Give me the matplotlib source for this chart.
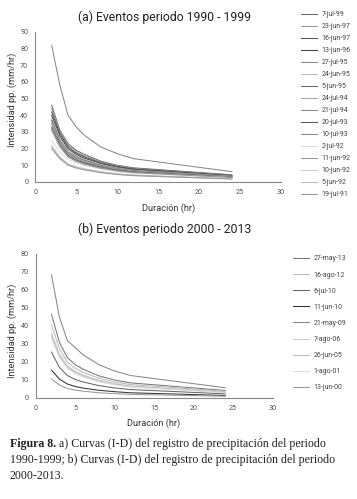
import matplotlib
matplotlib.use("Agg")
import matplotlib.pyplot as plt

durations = [2, 3, 4, 5, 6, 8, 10, 12, 24]

# (a) 1990 - 1999
labels_a = ["7-jul-99", "23-jun-97", "16-jun-97", "13-jun-96", "27-jul-95",
            "24-jun-95", "5-jun-95", "24-jul-94", "21-jul-94", "20-jul-93",
            "10-jul-93", "2-jul-92", "11-jun-92", "10-jun-92", "5-jun-92",
            "19-jul-91"]
values_a = [
    [46, 31, 23, 19, 16.5, 12.5, 10, 8.5, 4.3],
    [44, 30, 22, 18, 15.5, 12, 9.7, 8.1, 4.0],
    [42, 29, 21, 17.3, 15, 11.5, 9.3, 7.8, 3.9],
    [40, 27.5, 20, 16.5, 14.2, 11, 8.8, 7.4, 3.7],
    [82, 58, 40, 33, 28, 21, 17, 14, 6.2],
    [38, 26, 19, 15.8, 13.6, 10.5, 8.4, 7.0, 3.5],
    [37, 25, 18, 15, 13, 10, 8, 6.7, 3.3],
    [36, 24.5, 17.5, 14.5, 12.5, 9.6, 7.8, 6.5, 3.2],
    [35, 24, 17, 14, 12, 9.3, 7.5, 6.3, 3.1],
    [33, 22.5, 16, 13.2, 11.4, 8.8, 7.1, 6.0, 2.9],
    [32, 22, 15.5, 12.7, 11, 8.5, 6.9, 5.8, 2.8],
    [25, 18, 13.5, 11.5, 10, 7.8, 6.3, 5.3, 2.6],
    [31, 21, 15, 12.3, 10.6, 8.2, 6.6, 5.6, 2.7],
    [22, 15, 11, 9.2, 8, 6.2, 5, 4.2, 2.0],
    [21, 14.5, 10.5, 8.8, 7.6, 5.9, 4.8, 4.0, 1.9],
    [20, 14, 10, 8.4, 7.3, 5.6, 4.5, 3.8, 1.8],
]
colors_a = ["#666666", "#999999", "#555555", "#444444", "#888888",
            "#bbbbbb", "#666666", "#aaaaaa", "#888888", "#555555",
            "#888888", "#dddddd", "#999999", "#cccccc", "#bbbbbb",
            "#999999"]

# (b) 2000 - 2013
labels_b = ["27-may-13", "16-ago-12", "6-jul-10", "11-jun-10", "21-may-09",
            "7-ago-06", "26-jun-05", "1-ago-01", "13-jun-00"]
values_b = [
    [46.5, 31, 22.5, 18.5, 16, 12.3, 10, 8.4, 4.2],
    [40.5, 27.5, 20, 16.5, 14.2, 11, 8.9, 7.5, 3.7],
    [25.5, 17, 12.5, 10.3, 8.9, 6.9, 5.6, 4.7, 2.3],
    [15.5, 10.5, 7.8, 6.4, 5.5, 4.3, 3.5, 2.9, 1.4],
    [68.5, 45, 32, 28, 24, 18.5, 15, 12.5, 5.7],
    [36, 24.5, 18, 14.8, 12.8, 9.9, 8, 6.7, 3.3],
    [34.5, 23.5, 17.2, 14.2, 12.2, 9.4, 7.6, 6.4, 3.2],
    [33, 22.5, 16.5, 13.6, 11.7, 9, 7.3, 6.1, 3.0],
    [10.5, 7.2, 5.3, 4.4, 3.8, 2.9, 2.4, 2.0, 1.0],
]
colors_b = ["#777777", "#bbbbbb", "#666666", "#333333", "#888888",
            "#cccccc", "#bbbbbb", "#dddddd", "#999999"]

narrow = ["Roboto", "DejaVu Sans"]
W, H = 357, 499

fig = plt.figure(figsize=(W / 100, H / 100), dpi=100)
fig.patch.set_facecolor("white")


def px(x, y):
    return x / W, 1 - y / H


def panel(rect, labels, values, colors, ymax, title, title_y, ylab_y,
          leg_anchor, spacing):
    ax = fig.add_axes(rect)
    for lab, v, c in zip(labels, values, colors):
        ax.plot(durations, v, color=c, lw=0.75, label=lab)
    ax.set_xlim(0, 30)
    ax.set_ylim(0, ymax)
    ax.set_xticks(range(0, 31, 5))
    ax.set_yticks(range(0, ymax + 1, 10))
    for s in ("top", "right"):
        ax.spines[s].set_visible(False)
    for s in ("left", "bottom"):
        ax.spines[s].set_color("#888888")
        ax.spines[s].set_linewidth(0.8)
    ax.tick_params(length=0, pad=5, labelsize=5.2, labelcolor="#555555")
    for t in ax.get_xticklabels() + ax.get_yticklabels():
        t.set_family(narrow)
        t.set_stretch("condensed")
    fig.text(*px(12, ylab_y), "Intensidad pp. (mm/hr)", rotation=90,
             ha="center", va="center", fontsize=6.6, family=narrow,
             stretch="condensed", color="#333333")
    fig.text(*px(165, title_y), title, ha="center", va="center",
             fontsize=8.8, family=narrow, stretch="condensed",
             color="#222222")
    leg = ax.legend(loc="upper left", bbox_to_anchor=leg_anchor,
                    bbox_transform=fig.transFigure, frameon=False,
                    fontsize=5, handlelength=2.2, handletextpad=0.7,
                    labelspacing=spacing, borderpad=0)
    for t in leg.get_texts():
        t.set_family(narrow)
        t.set_stretch("condensed")
        t.set_color("#444444")
    return ax


ax_a = panel([35.3 / W, 1 - 182 / H, 245.7 / W, 150 / H], labels_a, values_a,
             colors_a, 90, "(a) Eventos periodo 1990 - 1999", 17, 100,
             px(298, 8), 0.72)
ax_b = panel([35.7 / W, 1 - 398 / H, 236.8 / W, 144 / H], labels_b, values_b,
             colors_b, 80, "(b) Eventos periodo 2000 - 2013", 229, 331,
             px(290, 252), 1.31)

fig.text(*px(169, 208), "Duración (hr)", ha="center", va="center",
         fontsize=6.6, family=narrow, stretch="condensed", color="#333333")
fig.text(*px(154, 423), "Duración (hr)", ha="center", va="center",
         fontsize=6.6, family=narrow, stretch="condensed", color="#333333")

# caption
cap = fig.add_axes([0, 0, 1, 1])
cap.axis("off")
serif = ["Liberation Serif", "DejaVu Serif"]
b = cap.text(10 / W, 1 - 447 / H, "Figura 8.", fontsize=8.6, weight="bold",
             family=serif, color="#222222", va="baseline")
cap.annotate(" a) Curvas (I-D) del registro de precipitación del periodo",
             xy=(1, 0), xycoords=b, va="bottom", fontsize=8.6, family=serif,
             color="#222222")
cap.text(10 / W, 1 - 463 / H,
         "1990-1999; b) Curvas (I-D) del registro de precipitación del periodo",
         fontsize=8.6, family=serif, color="#222222", va="baseline")
cap.text(10 / W, 1 - 479 / H, "2000-2013.", fontsize=8.6, family=serif,
         color="#222222", va="baseline")

fig.savefig("out.png", dpi=100)
